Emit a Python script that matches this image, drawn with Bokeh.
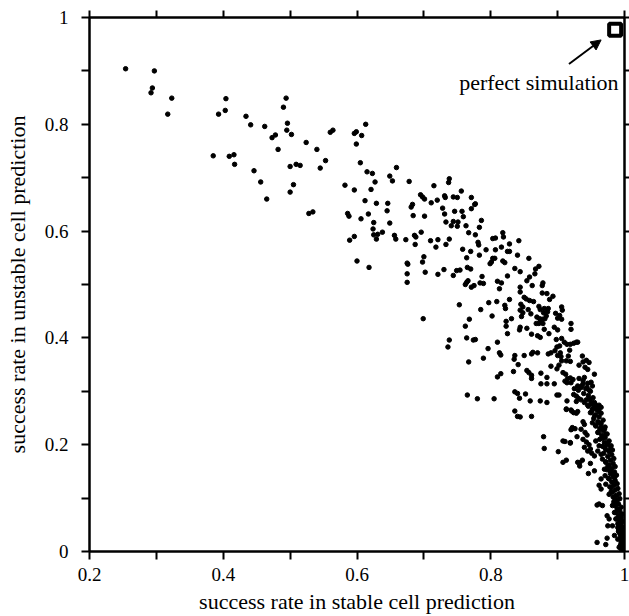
from bokeh.plotting import figure
from bokeh.models import (Range1d, LinearAxis, FixedTicker, NumeralTickFormatter,
                          CustomJSTickFormatter, Arrow, NormalHead, Label)
from bokeh.embed import file_html
from bokeh.resources import INLINE

# ---------------- data ----------------
# upper-left / middle part of the cloud
stable_a = [0.254, 0.297, 0.294, 0.292, 0.323, 0.317, 0.404, 0.403, 0.393, 0.434, 0.441, 0.462,
            0.494, 0.490, 0.496, 0.495, 0.502, 0.478, 0.473, 0.482, 0.385, 0.409, 0.416, 0.417,
            0.446, 0.456, 0.465, 0.500, 0.509, 0.515, 0.505, 0.500, 0.524, 0.540, 0.560, 0.564,
            0.596, 0.599, 0.607, 0.613, 0.599, 0.545, 0.553, 0.528, 0.534, 0.605, 0.615, 0.623,
            0.627, 0.621, 0.596, 0.582, 0.649, 0.653, 0.659, 0.678, 0.612, 0.629, 0.646, 0.645,
            0.617, 0.586, 0.588, 0.606, 0.625, 0.649, 0.624, 0.625, 0.631, 0.638, 0.629, 0.596,
            0.589, 0.656, 0.658, 0.673, 0.600, 0.618, 0.681, 0.683, 0.684, 0.695, 0.698, 0.701,
            0.701, 0.715, 0.737, 0.738, 0.756, 0.720, 0.711, 0.731, 0.732, 0.744, 0.750, 0.771,
            0.777, 0.776, 0.728, 0.746, 0.757, 0.771, 0.731, 0.759, 0.733, 0.744, 0.751, 0.741,
            0.750, 0.763, 0.783, 0.696, 0.686, 0.688, 0.687, 0.710, 0.721, 0.718, 0.738, 0.733,
            0.767, 0.777, 0.781, 0.782, 0.758, 0.770, 0.783, 0.764, 0.700, 0.698, 0.675, 0.676,
            0.675, 0.675, 0.702, 0.721, 0.730, 0.749, 0.754, 0.765, 0.770, 0.744, 0.762, 0.764,
            0.766, 0.771, 0.775, 0.784, 0.753, 0.785, 0.699]
unstable_a = [0.904, 0.900, 0.868, 0.859, 0.849, 0.819, 0.848, 0.826, 0.819, 0.815, 0.799, 0.796,
              0.849, 0.832, 0.802, 0.789, 0.781, 0.780, 0.775, 0.753, 0.741, 0.740, 0.743, 0.725,
              0.713, 0.692, 0.660, 0.721, 0.725, 0.723, 0.687, 0.673, 0.766, 0.753, 0.785, 0.789,
              0.783, 0.786, 0.779, 0.800, 0.763, 0.718, 0.732, 0.633, 0.636, 0.728, 0.711, 0.708,
              0.692, 0.678, 0.677, 0.686, 0.703, 0.694, 0.719, 0.693, 0.657, 0.652, 0.652, 0.638,
              0.632, 0.633, 0.628, 0.623, 0.616, 0.615, 0.604, 0.593, 0.594, 0.598, 0.585, 0.590,
              0.583, 0.592, 0.585, 0.584, 0.544, 0.532, 0.645, 0.650, 0.629, 0.668, 0.664, 0.660,
              0.628, 0.685, 0.691, 0.698, 0.675, 0.658, 0.653, 0.666, 0.663, 0.664, 0.663, 0.663,
              0.651, 0.650, 0.643, 0.637, 0.637, 0.642, 0.632, 0.627, 0.617, 0.618, 0.617, 0.610,
              0.609, 0.610, 0.607, 0.598, 0.592, 0.589, 0.575, 0.582, 0.584, 0.570, 0.585, 0.575,
              0.597, 0.593, 0.579, 0.574, 0.566, 0.562, 0.555, 0.550, 0.552, 0.542, 0.540, 0.538,
              0.520, 0.504, 0.523, 0.519, 0.528, 0.526, 0.527, 0.532, 0.529, 0.517, 0.500, 0.504,
              0.507, 0.495, 0.498, 0.503, 0.462, 0.453, 0.436]

# right-middle part of the cloud
stable_b = [0.786, 0.818, 0.819, 0.807, 0.803, 0.842, 0.828, 0.816, 0.825, 0.828, 0.807, 0.793,
            0.840, 0.857, 0.803, 0.806, 0.799, 0.801, 0.818, 0.821, 0.836, 0.844, 0.872, 0.867,
            0.866, 0.858, 0.854, 0.787, 0.825, 0.810, 0.816, 0.789, 0.862, 0.878, 0.877, 0.813,
            0.844, 0.844, 0.850, 0.853, 0.858, 0.864, 0.877, 0.884, 0.893, 0.888, 0.828, 0.797,
            0.809, 0.821, 0.822, 0.802, 0.845, 0.848, 0.844, 0.848, 0.856, 0.860, 0.872, 0.874,
            0.880, 0.886, 0.879, 0.885, 0.883, 0.877, 0.869, 0.873, 0.868, 0.872, 0.875, 0.878,
            0.881, 0.897, 0.900, 0.906, 0.907, 0.903, 0.906, 0.895, 0.900, 0.920, 0.920, 0.823,
            0.823, 0.831, 0.844, 0.843, 0.854, 0.861, 0.870, 0.874, 0.846, 0.880, 0.887, 0.825,
            0.898, 0.906, 0.910, 0.903, 0.899, 0.896, 0.914, 0.919, 0.924, 0.928, 0.930, 0.904,
            0.900, 0.905, 0.918, 0.916, 0.890, 0.886, 0.870, 0.863, 0.861, 0.850, 0.836, 0.835,
            0.841, 0.810, 0.796, 0.789, 0.813, 0.815, 0.937, 0.943, 0.938, 0.932, 0.947, 0.955,
            0.941, 0.945, 0.913, 0.919, 0.902, 0.906, 0.899, 0.908, 0.912, 0.890, 0.854, 0.857,
            0.861, 0.861, 0.875, 0.834, 0.815, 0.810, 0.884, 0.895, 0.884, 0.875, 0.915, 0.919,
            0.923, 0.920, 0.914, 0.911, 0.932, 0.940, 0.938, 0.930, 0.925, 0.931, 0.935, 0.944,
            0.947, 0.950, 0.952, 0.924, 0.928, 0.931, 0.928, 0.935, 0.940, 0.948, 0.945, 0.951,
            0.955, 0.957, 0.960, 0.962, 0.965, 0.952, 0.949, 0.955, 0.962, 0.899, 0.902, 0.914,
            0.913, 0.920, 0.924, 0.930, 0.836, 0.840, 0.843, 0.852, 0.859, 0.874, 0.884, 0.836,
            0.844, 0.861, 0.805, 0.780, 0.765, 0.767, 0.762, 0.764, 0.774, 0.777, 0.768, 0.738,
            0.736]
unstable_b = [0.620, 0.597, 0.589, 0.587, 0.586, 0.582, 0.576, 0.570, 0.562, 0.562, 0.565, 0.565,
              0.555, 0.549, 0.549, 0.549, 0.539, 0.542, 0.544, 0.541, 0.530, 0.524, 0.534, 0.529,
              0.520, 0.514, 0.507, 0.515, 0.516, 0.506, 0.503, 0.502, 0.498, 0.503, 0.498, 0.492,
              0.495, 0.486, 0.476, 0.473, 0.470, 0.468, 0.484, 0.483, 0.478, 0.472, 0.472, 0.466,
              0.468, 0.461, 0.455, 0.441, 0.463, 0.458, 0.452, 0.447, 0.453, 0.445, 0.459, 0.453,
              0.455, 0.455, 0.447, 0.449, 0.441, 0.435, 0.439, 0.436, 0.427, 0.427, 0.430, 0.427,
              0.436, 0.446, 0.437, 0.458, 0.452, 0.442, 0.435, 0.420, 0.415, 0.427, 0.416, 0.431,
              0.422, 0.436, 0.420, 0.415, 0.418, 0.407, 0.404, 0.401, 0.440, 0.416, 0.408, 0.408,
              0.397, 0.399, 0.392, 0.385, 0.383, 0.376, 0.388, 0.388, 0.390, 0.392, 0.392, 0.372,
              0.367, 0.365, 0.377, 0.366, 0.372, 0.370, 0.372, 0.373, 0.370, 0.367, 0.367, 0.360,
              0.350, 0.392, 0.380, 0.362, 0.372, 0.368, 0.366, 0.358, 0.355, 0.349, 0.354, 0.332,
              0.345, 0.341, 0.357, 0.356, 0.349, 0.357, 0.342, 0.335, 0.332, 0.347, 0.339, 0.335,
              0.330, 0.324, 0.334, 0.337, 0.333, 0.327, 0.326, 0.314, 0.314, 0.314, 0.324, 0.325,
              0.322, 0.316, 0.316, 0.319, 0.324, 0.326, 0.314, 0.310, 0.305, 0.302, 0.307, 0.307,
              0.302, 0.317, 0.310, 0.294, 0.291, 0.287, 0.281, 0.284, 0.279, 0.285, 0.274, 0.276,
              0.279, 0.272, 0.266, 0.274, 0.270, 0.266, 0.260, 0.254, 0.262, 0.293, 0.293, 0.282,
              0.266, 0.265, 0.260, 0.262, 0.299, 0.296, 0.287, 0.295, 0.282, 0.282, 0.279, 0.263,
              0.252, 0.253, 0.286, 0.286, 0.293, 0.355, 0.422, 0.400, 0.396, 0.397, 0.435, 0.396,
              0.383]

# lower-right tail
stable_c = [0.879, 0.880, 0.908, 0.919, 0.901, 0.908, 0.930, 0.933, 0.921, 0.922, 0.929, 0.938,
            0.940, 0.935, 0.941, 0.944, 0.938, 0.943, 0.947, 0.940, 0.949, 0.945, 0.951, 0.955,
            0.949, 0.946, 0.955, 0.952, 0.957, 0.962, 0.965, 0.970, 0.972, 0.961, 0.967, 0.975,
            0.980, 0.982, 0.970, 0.962, 0.957, 0.960, 0.965, 0.967, 0.972, 0.975, 0.970, 0.979,
            0.982, 0.985, 0.971, 0.977, 0.965, 0.962, 0.965, 0.962, 0.967, 0.959, 0.972, 0.980,
            0.982, 0.977, 0.985, 0.987, 0.982, 0.990, 0.985, 0.992, 0.987, 0.977, 0.974, 0.975,
            0.982, 0.990, 0.992, 0.985, 0.990, 0.995, 0.997, 0.992, 0.995, 0.999, 0.997, 0.959,
            0.972, 0.974, 0.840, 0.913, 0.921, 0.928, 0.926, 0.920, 0.911, 0.919, 0.913, 0.937,
            0.933]
unstable_c = [0.215, 0.193, 0.207, 0.203, 0.187, 0.167, 0.167, 0.166, 0.229, 0.232, 0.215, 0.243,
              0.238, 0.229, 0.223, 0.218, 0.210, 0.205, 0.200, 0.195, 0.192, 0.188, 0.184, 0.179,
              0.165, 0.146, 0.151, 0.241, 0.235, 0.241, 0.232, 0.229, 0.220, 0.223, 0.212, 0.204,
              0.198, 0.190, 0.195, 0.198, 0.207, 0.188, 0.182, 0.173, 0.167, 0.159, 0.154, 0.151,
              0.145, 0.139, 0.142, 0.136, 0.136, 0.124, 0.117, 0.089, 0.086, 0.087, 0.126, 0.120,
              0.111, 0.107, 0.101, 0.092, 0.086, 0.079, 0.073, 0.067, 0.061, 0.061, 0.067, 0.048,
              0.048, 0.045, 0.036, 0.030, 0.023, 0.017, 0.011, 0.008, 0.005, 0.003, 0.006, 0.017,
              0.013, 0.025, 0.253, 0.267, 0.263, 0.259, 0.230, 0.228, 0.206, 0.204, 0.171, 0.171,
              0.160]

# dense band along the right edge
stable_d = [0.999, 0.998, 1.000, 0.997, 0.999, 0.996, 0.998, 0.995, 0.999, 0.994, 0.997, 0.993,
            0.998, 0.995, 0.991, 0.997, 0.994, 0.990, 0.996, 0.993, 0.988, 0.995, 0.991, 0.997,
            0.987, 0.993, 0.989, 0.995, 0.986, 0.991, 0.984, 0.989, 0.993, 0.983, 0.988, 0.992,
            0.980, 0.986, 0.990, 0.978, 0.984, 0.989, 0.981, 0.986, 0.976, 0.983, 0.988, 0.979,
            0.985, 0.974, 0.981, 0.986, 0.977, 0.983, 0.972, 0.979, 0.984, 0.975, 0.981, 0.969,
            0.977, 0.972, 0.979, 0.967, 0.974, 0.970, 0.977, 0.963, 0.971, 0.966, 0.974, 0.960,
            0.968, 0.963, 0.971, 0.957, 0.965, 0.960, 0.968, 0.954, 0.962, 0.957, 0.965, 0.951,
            0.959, 0.954, 0.946, 0.956, 0.950, 0.943, 0.953, 0.946, 0.939, 0.949, 0.942, 0.936,
            0.945, 0.938, 0.999, 0.997, 0.994, 0.996, 0.991, 0.996]
unstable_d = [0.001, 0.004, 0.007, 0.010, 0.013, 0.016, 0.019, 0.022, 0.025, 0.028, 0.031, 0.034,
              0.037, 0.040, 0.043, 0.046, 0.049, 0.052, 0.055, 0.058, 0.061, 0.064, 0.067, 0.070,
              0.073, 0.076, 0.080, 0.083, 0.086, 0.089, 0.093, 0.096, 0.099, 0.102, 0.105, 0.108,
              0.112, 0.115, 0.118, 0.121, 0.124, 0.127, 0.130, 0.133, 0.137, 0.140, 0.143, 0.146,
              0.149, 0.153, 0.156, 0.159, 0.162, 0.165, 0.168, 0.171, 0.174, 0.178, 0.181, 0.184,
              0.187, 0.191, 0.194, 0.197, 0.200, 0.204, 0.207, 0.210, 0.213, 0.217, 0.220, 0.223,
              0.226, 0.230, 0.233, 0.236, 0.239, 0.243, 0.246, 0.249, 0.252, 0.256, 0.259, 0.262,
              0.265, 0.269, 0.272, 0.276, 0.280, 0.284, 0.288, 0.292, 0.296, 0.300, 0.305, 0.310,
              0.315, 0.320, 0.002, 0.009, 0.012, 0.030, 0.038, 0.058]

perfect_x = [0.986]
perfect_y = [0.977]
arrow_from = (0.917, 0.913)
arrow_to = (0.965, 0.958)
note_pos = (0.872, 0.878)
note_text = "perfect simulation"

major_ticks = [0.0, 0.2, 0.4, 0.6, 0.8, 1.0]
minor_ticks = [0.1, 0.3, 0.5, 0.7, 0.9]

FONT = "Liberation Serif"

# ---------------- figure ----------------
p = figure(width=629, height=616, x_range=Range1d(0.2, 1.0), y_range=Range1d(0.0, 1.0),
           output_backend="svg", toolbar_location=None,
           min_border_left=89, min_border_right=0, min_border_top=17, min_border_bottom=63)
p.xgrid.visible = False
p.ygrid.visible = False
p.outline_line_color = "black"
p.outline_line_width = 2
p.background_fill_color = "white"
p.border_fill_color = "white"

p.add_layout(LinearAxis(), "above")
p.add_layout(LinearAxis(), "right")


def style(ax, labelled, tick_out=8):
    ax.ticker = FixedTicker(ticks=major_ticks, minor_ticks=minor_ticks)
    ax.axis_line_color = "black"
    ax.axis_line_width = 2
    ax.major_tick_line_color = "black"
    ax.major_tick_line_width = 2
    ax.major_tick_in = 0
    ax.major_tick_out = tick_out
    ax.minor_tick_line_color = "black"
    ax.minor_tick_line_width = 2
    ax.minor_tick_in = 0
    ax.minor_tick_out = tick_out
    ax.major_label_text_font = FONT
    ax.major_label_text_color = "black"
    if labelled:
        ax.formatter = NumeralTickFormatter(format="0.[0]")
        ax.major_label_text_font_size = "19px"
        ax.axis_label_text_font = FONT
        ax.axis_label_text_font_size = "22px"
        ax.axis_label_text_font_style = "normal"
        ax.axis_label_text_color = "black"
    else:
        ax.formatter = CustomJSTickFormatter(code="return ''")
        ax.major_label_text_font_size = "1px"
        ax.major_label_standoff = 0


style(p.below[0], True)
style(p.left[0], True)
style(p.above[0], False, 7)
style(p.right[0], False, 5)

p.below[0].major_label_standoff = 8
p.below[0].axis_label = "success rate in stable cell prediction"
p.below[0].axis_label_standoff = 5
p.left[0].major_label_standoff = 13
p.left[0].axis_label = "success rate in unstable cell prediction"
p.left[0].axis_label_standoff = 12

xs = stable_a + stable_b + stable_c + stable_d
ys = unstable_a + unstable_b + unstable_c + unstable_d
p.scatter(xs, ys, size=4.5, color="black")

p.scatter(perfect_x, perfect_y, marker="square", size=12, fill_color="white",
          line_color="black", line_width=4)

p.add_layout(Arrow(end=NormalHead(size=10, fill_color="black", line_color="black"),
                   x_start=arrow_from[0], y_start=arrow_from[1],
                   x_end=arrow_to[0], y_end=arrow_to[1],
                   line_color="black", line_width=2))
p.add_layout(Label(x=note_pos[0], y=note_pos[1], text=note_text, text_align="center",
                   text_baseline="middle", text_font=FONT, text_font_size="22px",
                   text_color="black"))

open("out.html", "w").write(file_html(p, INLINE))
